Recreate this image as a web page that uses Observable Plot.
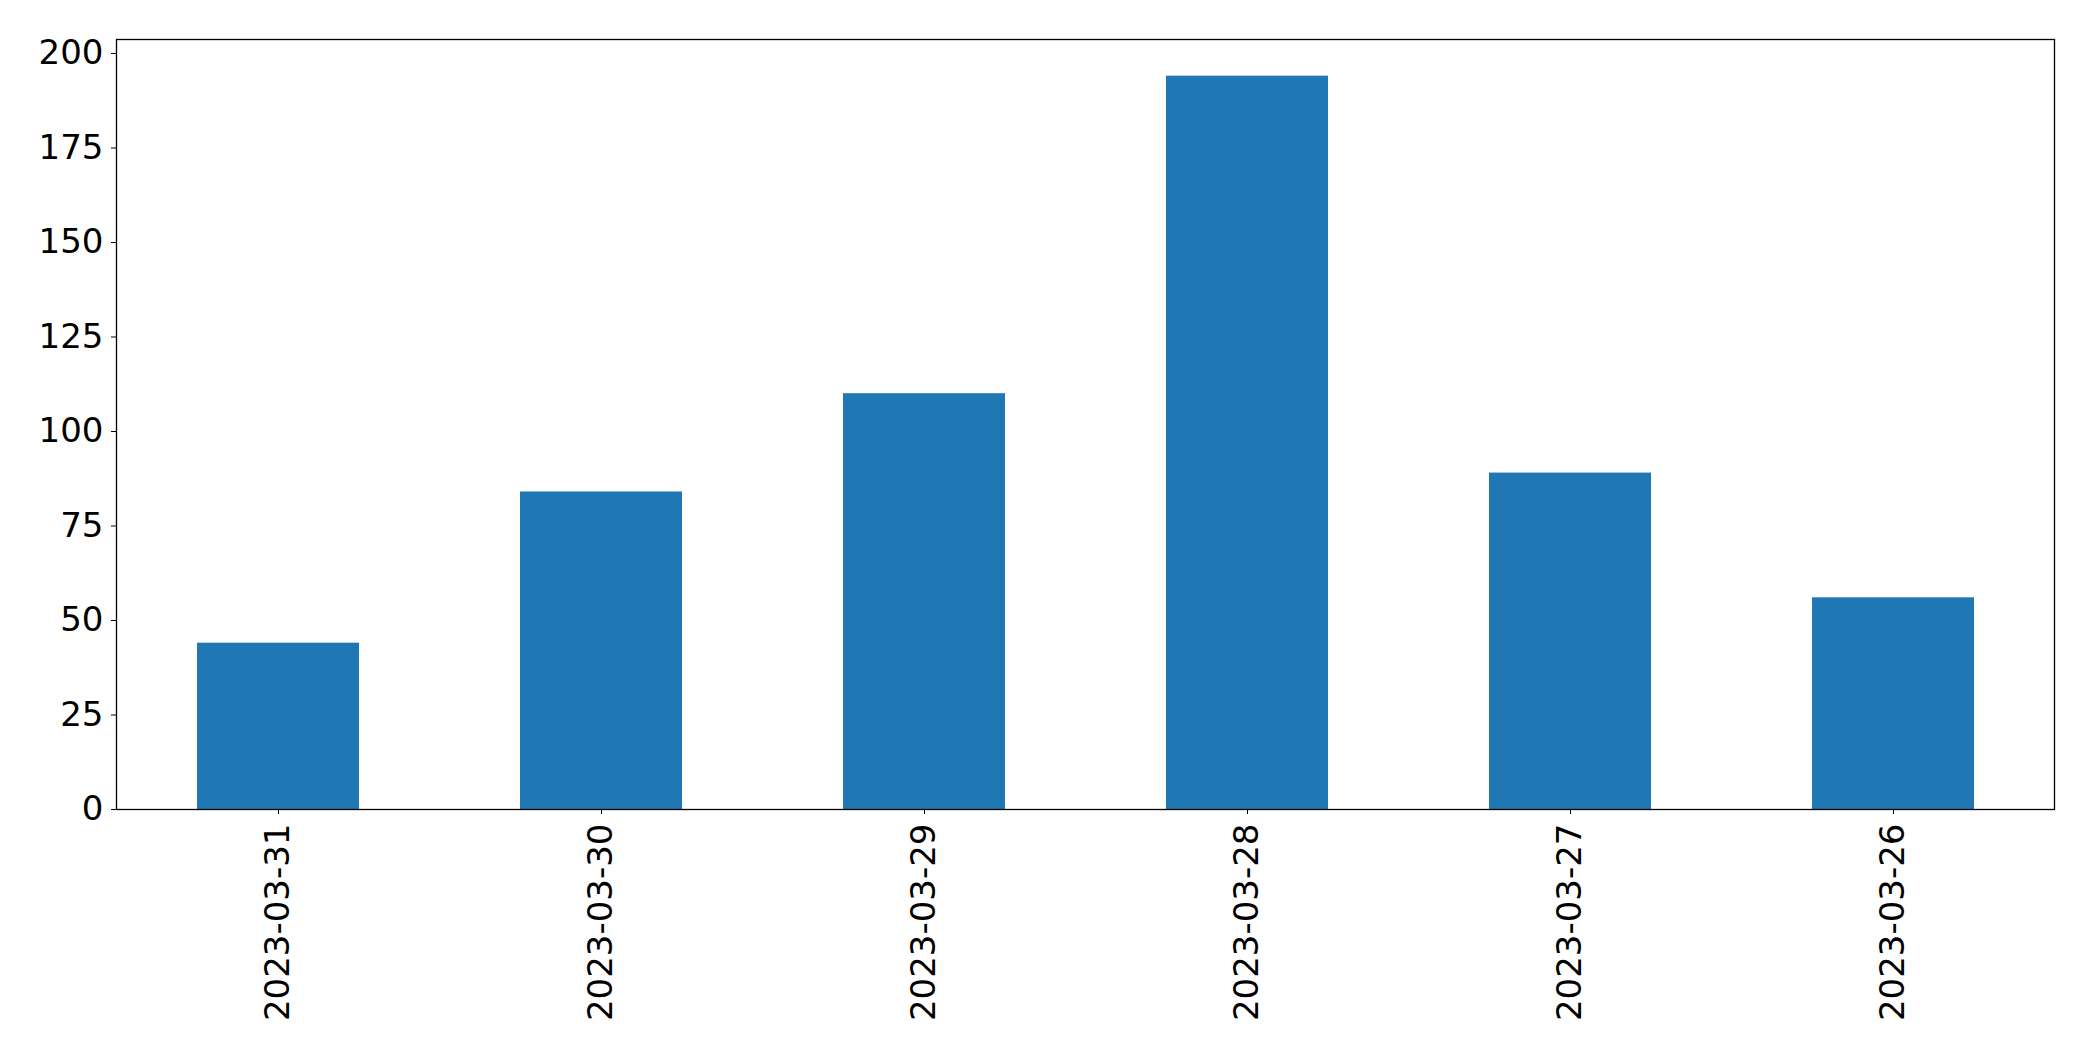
<!DOCTYPE html>
<html>
<head>
<meta charset="utf-8">
<script src="https://cdn.jsdelivr.net/npm/d3@7"></script>
<script src="https://cdn.jsdelivr.net/npm/@observablehq/plot@0.6"></script>
<style>
  html, body { margin: 0; padding: 0; background: #fff; }
  #chart svg { display: block; }
</style>
</head>
<body>
<div id="chart"></div>
<script>
const dates = ["2023-03-31", "2023-03-30", "2023-03-29", "2023-03-28", "2023-03-27", "2023-03-26"];
const counts = [44, 84, 110, 194, 89, 56];
const yTicks = [0, 25, 50, 75, 100, 125, 150, 175, 200];

const data = dates.map((d, i) => ({date: d, count: counts[i]}));

const chart = Plot.plot({
  width: 2093,
  height: 1061,
  marginLeft: 116,
  marginRight: 39,
  marginTop: 39,
  marginBottom: 252,
  style: {fontFamily: "DejaVu Sans", fontSize: "34px", background: "#fff", color: "#000"},
  x: {domain: dates, paddingInner: 0.5, paddingOuter: 0.25, label: null},
  y: {domain: [0, d3.max(counts) * 1.05], label: null},
  marks: [
    Plot.barY(data, {x: "date", y: "count", fill: "#1f77b4"}),
    Plot.frame({stroke: "#000", strokeWidth: 1.3}),
    Plot.axisY({ticks: yTicks, tickSize: 5, tickPadding: 8, fontSize: 34, label: null, tickFormat: d => String(d)}),
    Plot.axisX({tickSize: 5, tickPadding: 9, tickRotate: -90, fontSize: 34, label: null})
  ]
});
document.getElementById("chart").appendChild(chart);
</script>
</body>
</html>
